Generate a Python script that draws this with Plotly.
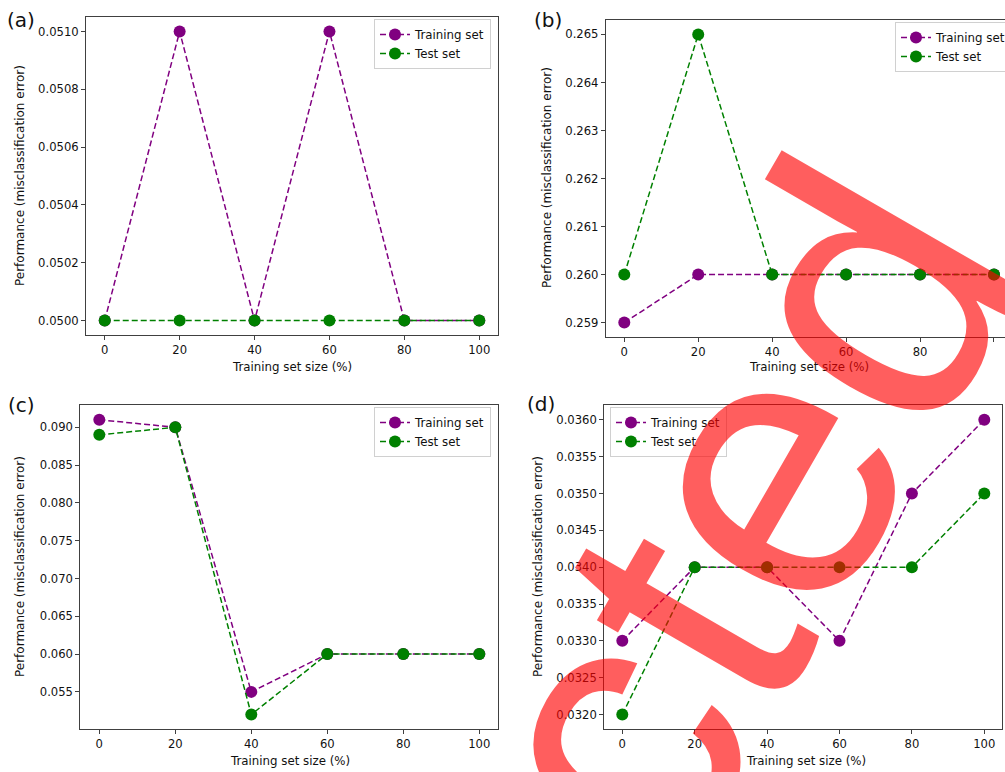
import plotly.graph_objects as go

# ---------------- data ----------------
x_pct = [0, 20, 40, 60, 80, 100]

a_train = [0.0500, 0.0510, 0.0500, 0.0510, 0.0500, 0.0500]
a_test = [0.0500, 0.0500, 0.0500, 0.0500, 0.0500, 0.0500]

b_train = [0.259, 0.260, 0.260, 0.260, 0.260, 0.260]
b_test = [0.260, 0.265, 0.260, 0.260, 0.260, 0.260]

c_train = [0.091, 0.090, 0.055, 0.060, 0.060, 0.060]
c_test = [0.089, 0.090, 0.052, 0.060, 0.060, 0.060]

d_train = [0.0330, 0.0340, 0.0340, 0.0330, 0.0350, 0.0360]
d_test = [0.0320, 0.0340, 0.0340, 0.0340, 0.0340, 0.0350]

x_ticks = [0, 20, 40, 60, 80, 100]
a_yticks = [0.0500, 0.0502, 0.0504, 0.0506, 0.0508, 0.0510]
b_yticks = [0.259, 0.260, 0.261, 0.262, 0.263, 0.264, 0.265]
c_yticks = [0.055, 0.060, 0.065, 0.070, 0.075, 0.080, 0.085, 0.090]
d_yticks = [0.0320, 0.0325, 0.0330, 0.0335, 0.0340, 0.0345, 0.0350, 0.0355, 0.0360]

panel_labels = ["(a)", "(b)", "(c)", "(d)"]
series_names = ["Training set", "Test set"]
x_title = "Training set size (%)"
y_title = "Performance (misclassification error)"
watermark = "Retracted"

# ---------------- layout helpers ----------------
W, H = 1005, 772
FONT = "DejaVu Sans"
PURPLE = "#800080"
GREEN = "#008000"
FRAME = "#404040"


def fx(p):
    return p / W


def fy(p):
    return 1 - p / H


panels = [
    dict(tr=a_train, te=a_test, yt=a_yticks, fmt=".4f", xd=(86, 498), yd=(17, 335),
         xr=[-5, 105], yr=[0.04995, 0.05105], leg=(491, 19, "right"),
         lab=(21, 20), ytl=(20, 176), xtl=(292, 367)),
    dict(tr=b_train, te=b_test, yt=b_yticks, fmt=".3f", xd=(605.8, 1005), yd=(20, 337),
         xr=[-5, 102.98], yr=[0.2587, 0.2653], leg=(895, 22, "left"),
         lab=(548, 20), ytl=(547, 178), xtl=(809, 367)),
    dict(tr=c_train, te=c_test, yt=c_yticks, fmt=".3f", xd=(80.3, 498.3), yd=(405, 729.3),
         xr=[-5, 105], yr=[0.05005, 0.09295], leg=(491, 407, "right"),
         lab=(21, 405), ytl=(20, 567), xtl=(290, 761)),
    dict(tr=d_train, te=d_test, yt=d_yticks, fmt=".4f", xd=(604.2, 1002.4), yd=(405, 729.3),
         xr=[-5, 105], yr=[0.0318, 0.0362], leg=(610, 407, "left"),
         lab=(541, 404), ytl=(538, 567), xtl=(806, 761)),
]

fig = go.Figure()
annotations = []
layout_axes = {}

for i, p in enumerate(panels):
    n = "" if i == 0 else str(i + 1)
    xa, ya = "x" + n, "y" + n
    leg = "legend" + n
    for name, vals, col in [(series_names[0], p["tr"], PURPLE), (series_names[1], p["te"], GREEN)]:
        fig.add_trace(go.Scatter(
            x=x_pct, y=vals, name=name, mode="lines+markers",
            line=dict(color=col, width=1.5, dash="6px,3px"),
            marker=dict(color=col, size=12),
            xaxis=xa, yaxis=ya, legend=leg, cliponaxis=False,
        ))
    common = dict(showline=True, linecolor=FRAME, linewidth=1, mirror=True,
                  ticks="outside", ticklen=4, tickwidth=1, tickcolor=FRAME,
                  showgrid=False, zeroline=False,
                  tickfont=dict(family=FONT, size=11.6, color="#111"))
    layout_axes["xaxis" + n] = dict(common, domain=[fx(p["xd"][0]), fx(p["xd"][1])],
                                    range=p["xr"], tickvals=x_ticks, anchor=ya)
    layout_axes["yaxis" + n] = dict(common, domain=[fy(p["yd"][1]), fy(p["yd"][0])],
                                    range=p["yr"], tickvals=p["yt"], tickformat=p["fmt"],
                                    anchor=xa)
    lx, ly, lanchor = p["leg"]
    layout_axes[leg] = dict(x=fx(lx), y=fy(ly), xanchor=lanchor, yanchor="top",
                            xref="paper", yref="paper",
                            bgcolor="rgba(255,255,255,0.8)", bordercolor="#d0d0d0",
                            borderwidth=1, font=dict(family=FONT, size=11.8, color="#111"),
                            tracegroupgap=0, itemwidth=30)
    annotations.append(dict(text=panel_labels[i], x=fx(p["lab"][0]), y=fy(p["lab"][1]),
                            xref="paper", yref="paper", showarrow=False,
                            xanchor="center", yanchor="middle",
                            font=dict(family=FONT, size=20, color="#111")))
    annotations.append(dict(text=y_title, x=fx(p["ytl"][0]), y=fy(p["ytl"][1]),
                            xref="paper", yref="paper", showarrow=False, textangle=-90,
                            xanchor="center", yanchor="middle",
                            font=dict(family=FONT, size=12, color="#111")))
    annotations.append(dict(text=x_title, x=fx(p["xtl"][0]), y=fy(p["xtl"][1]),
                            xref="paper", yref="paper", showarrow=False,
                            xanchor="center", yanchor="middle",
                            font=dict(family=FONT, size=11.8, color="#111")))

# large semi-transparent watermark over the whole figure
annotations.append(dict(text=watermark, x=fx(505), y=fy(917), xref="paper", yref="paper",
                        showarrow=False, textangle=-60, xanchor="center", yanchor="middle",
                        font=dict(family="Liberation Sans", size=382,
                                  color="rgba(255,0,0,0.63)")))

fig.update_layout(
    width=W, height=H,
    margin=dict(l=0, r=0, t=0, b=0, pad=0, autoexpand=False),
    paper_bgcolor="white", plot_bgcolor="white",
    showlegend=True,
    annotations=annotations,
    **layout_axes,
)

fig.write_html("out.html",
               config={"displayModeBar": False},
               post_script="document.body.style.margin='0px';"
                           "document.documentElement.style.overflow='hidden';")
